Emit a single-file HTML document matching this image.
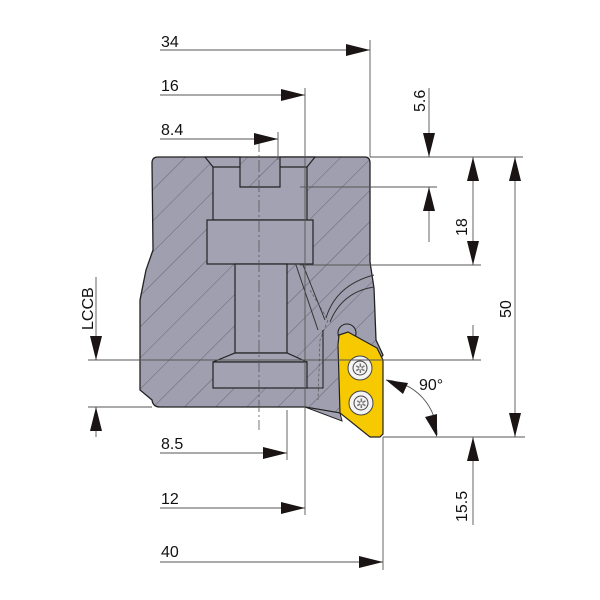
<!DOCTYPE html>
<html><head><meta charset="utf-8"><style>html,body{margin:0;padding:0;background:#fff}svg{display:block}text{font-family:"Liberation Sans","DejaVu Sans",sans-serif;font-size:16px;fill:#111}</style></head>
<body>
<svg width="600" height="600" viewBox="0 0 600 600" xmlns="http://www.w3.org/2000/svg">
<defs>
<pattern id="h" patternUnits="userSpaceOnUse" width="22" height="22" patternTransform="rotate(45)">
<rect width="22" height="22" fill="#a09fb0"/>
<line x1="0" y1="0" x2="0" y2="22" stroke="#4a4a58" stroke-width="0.7"/>
</pattern>
</defs>
<!-- body -->
<path d="M158,157 L365,157 Q370,157 370,163 L370,262 L374,288 L376,340 L383,355 L340,413 L305,407 L160,407 Q153,407 152,400 L140,390 L140,300 L146,270 L153,250 L152,163 Q152,157 158,157 Z" fill="url(#h)" stroke="#222" stroke-width="1.3"/>
<!-- bottom-right unhatched pocket wedge -->
<path d="M305,407 L340,413 L342,421 Z" fill="#a3a2b3" stroke="#222" stroke-width="1"/>
<!-- unhatched cavities -->
<g fill="#a3a2b3" stroke="#222" stroke-width="1.2">
<path d="M205,157 L240,157 L240,187 L280,187 L280,157 L315,157 L307,167 L307,220 L213,220 L213,167 Z"/>
<rect x="207" y="220" width="106" height="44"/>
<rect x="235" y="264" width="52" height="89"/>
<path d="M235,353 L287,353 L307,362 L213,362 Z"/>
<rect x="213" y="362" width="94" height="26"/>
</g>
<path d="M213,167 L240,167 M280,167 L307,167" stroke="#222" stroke-width="1.2"/>
<path d="M307,388 L323,388 L323,330" fill="none" stroke="#222" stroke-width="1.1"/>
<path d="M296,265 L318,330 M303,265 L325,320" stroke="#333" stroke-width="1"/>
<path d="M326,318 Q336,285 374,275 M330,322 Q342,292 374,287" fill="none" stroke="#333" stroke-width="1"/>
<path d="M310,290 L328,320 L320,340 L318,400" fill="none" stroke="#555" stroke-width="0.7" stroke-dasharray="3,2"/>
<circle cx="347" cy="333" r="9" fill="#a3a2b3" stroke="#222" stroke-width="1.1"/>
<!-- insert -->
<path d="M339,335 L348,332 L377,348 L383,360 L383,434 L380,437 L370,437 L340,413 L338,345 Z" fill="#f7c900" stroke="#222" stroke-width="1.2"/>
<g fill="#f4f4f4" stroke="#444" stroke-width="1"><circle cx="360" cy="368" r="12"/><circle cx="361" cy="403" r="12"/><circle cx="360" cy="368" r="7"/><circle cx="361" cy="403" r="7"/></g>
<text x="355" y="373" style="font-size:13px;fill:#777">✲</text><text x="356" y="408" style="font-size:13px;fill:#777">✲</text>
<!-- centerline -->
<line x1="259" y1="140" x2="259" y2="430" stroke="#555" stroke-width="0.8" stroke-dasharray="12,3,2,3"/>
<!-- dimension lines -->
<g stroke="#555" stroke-width="0.9" fill="none">
<line x1="160" y1="50" x2="370" y2="50"/><line x1="370" y1="40" x2="370" y2="157"/>
<line x1="160" y1="95" x2="305" y2="95"/><line x1="305" y1="88" x2="305" y2="515"/>
<line x1="160" y1="139" x2="278" y2="139"/><line x1="278" y1="132" x2="278" y2="160"/>
<line x1="160" y1="453" x2="287" y2="453"/><line x1="287" y1="410" x2="287" y2="460"/>
<line x1="160" y1="508" x2="305" y2="508"/>
<line x1="160" y1="562" x2="383" y2="562"/><line x1="383" y1="437" x2="383" y2="570"/>
<line x1="370" y1="157" x2="523" y2="157"/><line x1="300" y1="187" x2="437" y2="187"/>
<line x1="300" y1="265" x2="481" y2="265"/><line x1="88" y1="360" x2="481" y2="360"/>
<line x1="88" y1="407" x2="152" y2="407"/><line x1="383" y1="437" x2="525" y2="437"/>
<line x1="429" y1="88" x2="429" y2="157"/><line x1="429" y1="187" x2="429" y2="242"/>
<line x1="473" y1="157" x2="473" y2="265"/>
<line x1="515" y1="157" x2="515" y2="437"/>
<line x1="473" y1="325" x2="473" y2="360"/><line x1="473" y1="437" x2="473" y2="525"/>
<line x1="96" y1="277" x2="96" y2="360"/><line x1="96" y1="407" x2="96" y2="437"/>
<path d="M386,380 A55,55 0 0 1 437,435"/>
</g>
<!-- arrows -->
<g fill="#1a1414">
<path d="M370,50 l-24,-6 v12z"/><path d="M305,95 l-24,-6 v12z"/><path d="M278,139 l-24,-6 v12z"/>
<path d="M287,453 l-24,-6 v12z"/><path d="M305,508 l-24,-6 v12z"/><path d="M383,562 l-24,-6 v12z"/>
<path d="M429,157 l-6,-24 h12z"/><path d="M429,187 l-6,24 h12z"/>
<path d="M473,157 l-6,24 h12z"/><path d="M473,265 l-6,-24 h12z"/>
<path d="M515,157 l-6,24 h12z"/><path d="M515,437 l-6,-24 h12z"/>
<path d="M473,360 l-6,-24 h12z"/><path d="M473,437 l-6,24 h12z"/>
<path d="M96,360 l-6,-24 h12z"/><path d="M96,407 l-6,24 h12z"/>
<path d="M386,380 l22,3 l-5,11z"/><path d="M437,437 l-12,-20 l12,-3z"/>
</g>
<!-- labels -->
<text x="161" y="47">34</text><text x="161" y="91">16</text><text x="161" y="135">8.4</text>
<text x="161" y="449">8.5</text><text x="161" y="504">12</text><text x="161" y="557">40</text>
<text x="419" y="390">90°</text>
<text transform="translate(425,112) rotate(-90)">5.6</text>
<text transform="translate(467,236) rotate(-90)">18</text>
<text transform="translate(511,318) rotate(-90)">50</text>
<text transform="translate(467,522) rotate(-90)">15.5</text>
<text transform="translate(93,330) rotate(-90)">LCCB</text>
</svg>
</body></html>
